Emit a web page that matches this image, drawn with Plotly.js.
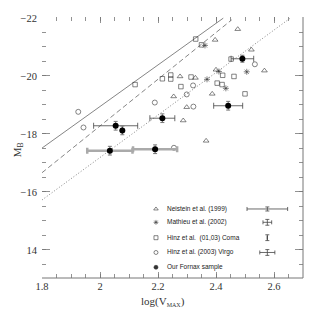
<!DOCTYPE html>
<html>
<head>
<meta charset="utf-8">
<script src="https://cdn.plot.ly/plotly-3.0.1.min.js"></script>
<style>
  html, body { margin: 0; padding: 0; background: #fff; }
  #plot { width: 320px; height: 320px; }
</style>
</head>
<body>
<div id="plot"></div>
<script>
// Neistein et al. (1999) - open triangles
var neisteinX = [2.475, 2.397, 2.522, 2.567, 2.400, 2.276, 2.329, 2.387, 2.254, 2.299, 2.287, 2.366];
var neisteinY = [-21.61, -21.24, -20.90, -20.18, -20.21, -19.98, -19.93, -19.38, -19.29, -18.92, -18.46, -17.76];

// Mathieu et al. (2002)
var mathieuX = [2.362, 2.506, 2.369, 2.434, 2.410];
var mathieuY = [-21.05, -20.14, -19.88, -19.57, -20.15];

// Hinz et al. (01,03) Coma - open squares
var comaX = [2.330, 2.350, 2.452, 2.121, 2.215, 2.244, 2.244, 2.314, 2.279, 2.423, 2.462, 2.404, 2.421, 2.500];
var comaY = [-21.27, -21.07, -20.58, -19.70, -19.90, -20.03, -19.89, -19.96, -19.63, -20.02, -19.98, -19.75, -19.70, -19.38];

// Hinz et al. (2003) Virgo - open circles
var virgoX = [2.534, 2.321, 2.299, 2.322, 2.189, 1.925, 1.943, 2.255];
var virgoY = [-20.40, -19.67, -19.36, -18.94, -19.08, -18.76, -18.22, -17.52];

// Our Fornax sample - filled circles
var fornaxX = [2.054, 2.077, 2.215, 2.491, 2.442];
var fornaxY = [-18.28, -18.12, -18.54, -20.59, -18.97];
var fornaxXerr = [0.076, 0, 0.043, 0.039, 0.05];
var fornaxYerr = [0.15, 0.15, 0.15, 0.12, 0.15];
// Fornax galaxies with uncertain inclination (grey bars)
var fornaxGreyX = [2.034, 2.190];
var fornaxGreyY = [-17.42, -17.47];
var fornaxGreyXerr = [0.078, 0.076];
var fornaxGreyYerr = [0.15, 0.15];

// Tully-Fisher relations
var tfSolidX = [1.8, 2.425];
var tfSolidY = [-17.51, -21.99];
var tfDashX = [1.8, 2.454];
var tfDashY = [-16.66, -21.93];
var tfDotX = [1.8, 2.656];
var tfDotY = [-15.72, -21.99];

// legend rows and typical error bars
var legendNames = ['Neistein et al. (1999)', 'Mathieu et al. (2002)', 'Hinz et al.  (01,03) Coma', 'Hinz et al. (2003) Virgo', 'Our Fornax sample'];
var legendRowY = [-15.41, -14.95, -14.42, -13.91, -13.40];
var typicalXerr = [0.07, 0.015, 0, 0.026];
var typicalYerr = [0.07, 0.1, 0.1, 0.1];

var ink = '#333';
var grey = '#777';

var traces = [];
function tfLine(x, y, dash) {
  return {x: x, y: y, mode: 'lines', type: 'scatter', hoverinfo: 'skip',
    line: {color: '#666', width: 0.8, dash: dash}};
}
traces.push(tfLine(tfSolidX, tfSolidY, 'solid'));
traces.push(tfLine(tfDashX, tfDashY, '5px,3px'));
traces.push(tfLine(tfDotX, tfDotY, '1px,2px'));

function openPts(x, y, sym, size) {
  return {x: x, y: y, mode: 'markers', type: 'scatter',
    marker: {symbol: sym, size: size, color: ink, line: {color: ink, width: 0.6}}};
}
traces.push(openPts(neisteinX, neisteinY, 'triangle-up-open', 5));
traces.push(openPts(mathieuX, mathieuY, 'asterisk-open', 5));
traces.push(openPts(comaX, comaY, 'square-open', 4.5));
traces.push(openPts(virgoX, virgoY, 'circle-open', 5));

traces.push({x: fornaxGreyX, y: fornaxGreyY, mode: 'markers', type: 'scatter',
  marker: {symbol: 'circle', size: 6, color: '#000'},
  error_x: {type: 'data', array: fornaxGreyXerr, color: '#aaa', thickness: 2.5, width: 3},
  error_y: {type: 'data', array: fornaxGreyYerr, color: grey, thickness: 1, width: 2}});
traces.push({x: fornaxX, y: fornaxY, mode: 'markers', type: 'scatter',
  marker: {symbol: 'circle', size: 6, color: '#000'},
  error_x: {type: 'data', array: fornaxXerr, color: '#444', thickness: 0.8, width: 3},
  error_y: {type: 'data', array: fornaxYerr, color: grey, thickness: 1, width: 2}});

// legend keys
var keyX = legendRowY.map(function () { return 2.193; });
var keySym = ['triangle-up-open', 'asterisk-open', 'square-open', 'circle-open', 'circle'];
traces.push({x: keyX, y: legendRowY, mode: 'markers', type: 'scatter',
  marker: {symbol: keySym, size: 4, color: ink, line: {color: ink, width: 0.6}}});

// typical error bars
var errX = typicalXerr.map(function () { return 2.577; });
traces.push({x: errX, y: legendRowY.slice(0, 4), mode: 'markers', type: 'scatter',
  marker: {size: 1, color: 'rgba(0,0,0,0)'},
  error_x: {type: 'data', array: typicalXerr, color: '#444', thickness: 0.8, width: 2},
  error_y: {type: 'data', array: typicalYerr, color: '#444', thickness: 0.8, width: 2}});

var annotations = legendNames.map(function (n, i) {
  return {x: 2.224, y: legendRowY[i], xref: 'x', yref: 'y', text: n, showarrow: false,
    xanchor: 'left', yanchor: 'middle', font: {family: 'Liberation Sans', size: 6.5, color: '#222'}};
});
annotations.push({x: -0.126, y: 0.49, xref: 'paper', yref: 'paper', textangle: -90, showarrow: false,
  text: 'M<sub>B</sub>', font: {family: 'Liberation Serif', size: 11, color: ink}});
annotations.push({x: 0.464, y: -0.123, xref: 'paper', yref: 'paper', showarrow: false,
  text: 'log(V<sub><span style="font-size:6px">MAX</span></sub>)', font: {family: 'Liberation Serif', size: 11, color: ink}});

var layout = {
  width: 320, height: 320,
  margin: {l: 42, r: 17, t: 17, b: 42, pad: 0},
  showlegend: false,
  paper_bgcolor: '#fff', plot_bgcolor: '#fff',
  font: {family: 'Liberation Serif', size: 10.5, color: ink},
  xaxis: {
    range: [1.8, 2.7], showgrid: false, zeroline: false, showline: false,
    tickvals: [1.8, 2.0, 2.2, 2.4, 2.6], ticktext: ['1.8', '2', '2.2', '2.4', '2.6'],
    ticks: 'inside', ticklen: 6, tickcolor: grey, tickwidth: 0.8, mirror: 'ticks',
    minor: {dtick: 0.05, ticks: 'inside', ticklen: 4, tickcolor: grey, tickwidth: 0.8},
    tickfont: {size: 10.5}
  },
  yaxis: {
    range: [-13.03, -22.03], showgrid: false, zeroline: false, showline: false,
    tickvals: [-22, -20, -18, -16, -14], ticktext: ['\u221222', '\u221220', '\u221218', '\u221216', '14'],
    ticks: 'inside', ticklen: 8, tickcolor: grey, tickwidth: 0.8, mirror: 'ticks',
    minor: {dtick: 0.5, ticks: 'inside', ticklen: 4, tickcolor: grey, tickwidth: 0.8},
    ticklabelstandoff: 4, tickfont: {size: 10.5}
  },
  shapes: [
    {type: 'line', xref: 'paper', yref: 'paper', x0: 0, x1: 1, y0: 0, y1: 0, line: {color: grey, width: 1}},
    {type: 'line', xref: 'paper', yref: 'paper', x0: 1, x1: 1, y0: 0, y1: 1, line: {color: grey, width: 1}}
  ],
  annotations: annotations
};

Plotly.newPlot('plot', traces, layout, {displayModeBar: false, staticPlot: true});
</script>
</body>
</html>
